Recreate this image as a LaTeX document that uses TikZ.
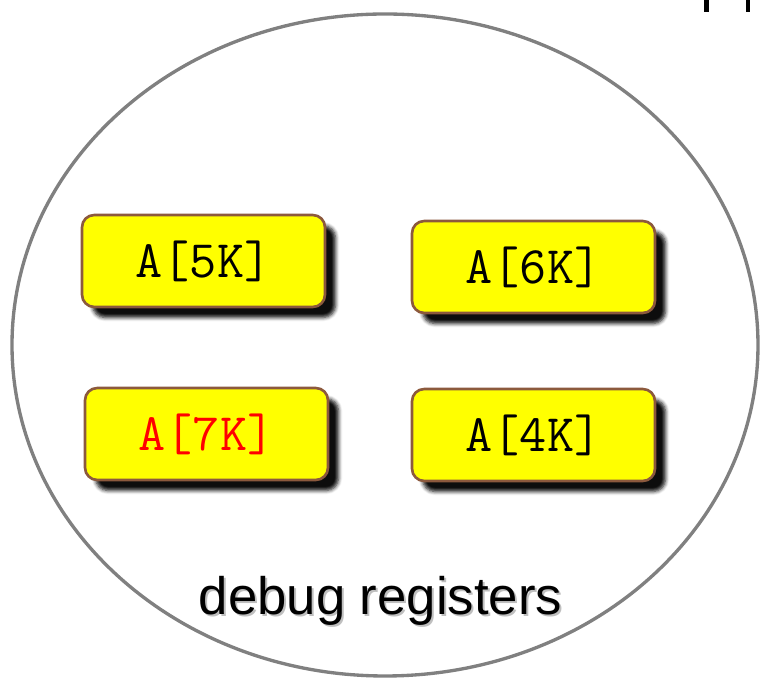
\documentclass[tikz,border=0pt]{standalone}
\usepackage{fontspec}
\setmainfont{Liberation Sans}
\usepackage{tikz}
\definecolor{regyellow}{rgb}{1.0, 1.0, 0.0}
\definecolor{regbrown}{rgb}{0.55, 0.35, 0.24}
\definecolor{ringgray}{rgb}{0.5, 0.5, 0.5}
\usetikzlibrary{shadows.blur}

\tikzset{
    regbox/.style={fill=regyellow, draw=regbrown, line width=1.5pt, rounded corners=7pt,
        minimum width=4.86cm, minimum height=1.84cm,
        font=\ttfamily\fontsize{30}{30}\selectfont,
        blur shadow={shadow xshift=6pt, shadow yshift=-6pt, shadow blur steps=5,
            shadow blur extra rounding=1pt, shadow opacity=95}}
}

\begin{document}
\begin{tikzpicture}
                \useasboundingbox (0,0) rectangle (15.2,-13.58);

                % the register set
                \draw[ringgray, line width=1.9pt] (7.7,-6.9) ellipse (7.46 and 6.62);

                % bits of the next slide peeking in
                \draw[line width=2.5pt] (14.13,0) -- (14.13,-0.24);
                \draw[line width=2.5pt] (14.96,0) -- (14.96,-0.24);

                \node[regbox] (r5) at (4.07,-5.22) {A[5K]};
                \node[regbox] (r6) at (10.67,-5.34) {A[6K]};
                \node[regbox, text=red] (r7) at (4.13,-8.68) {A[7K]};
                \node[regbox] (r4) at (10.67,-8.70) {A[4K]};

                \node[anchor=base, text=black!25, font=\fontsize{30}{30}\selectfont] (labelshadow) at (7.65,-12.34) {debug registers};
                \node[anchor=base, font=\fontsize{30}{30}\selectfont] (label) at (7.61,-12.3) {debug registers};
\end{tikzpicture}
\end{document}
